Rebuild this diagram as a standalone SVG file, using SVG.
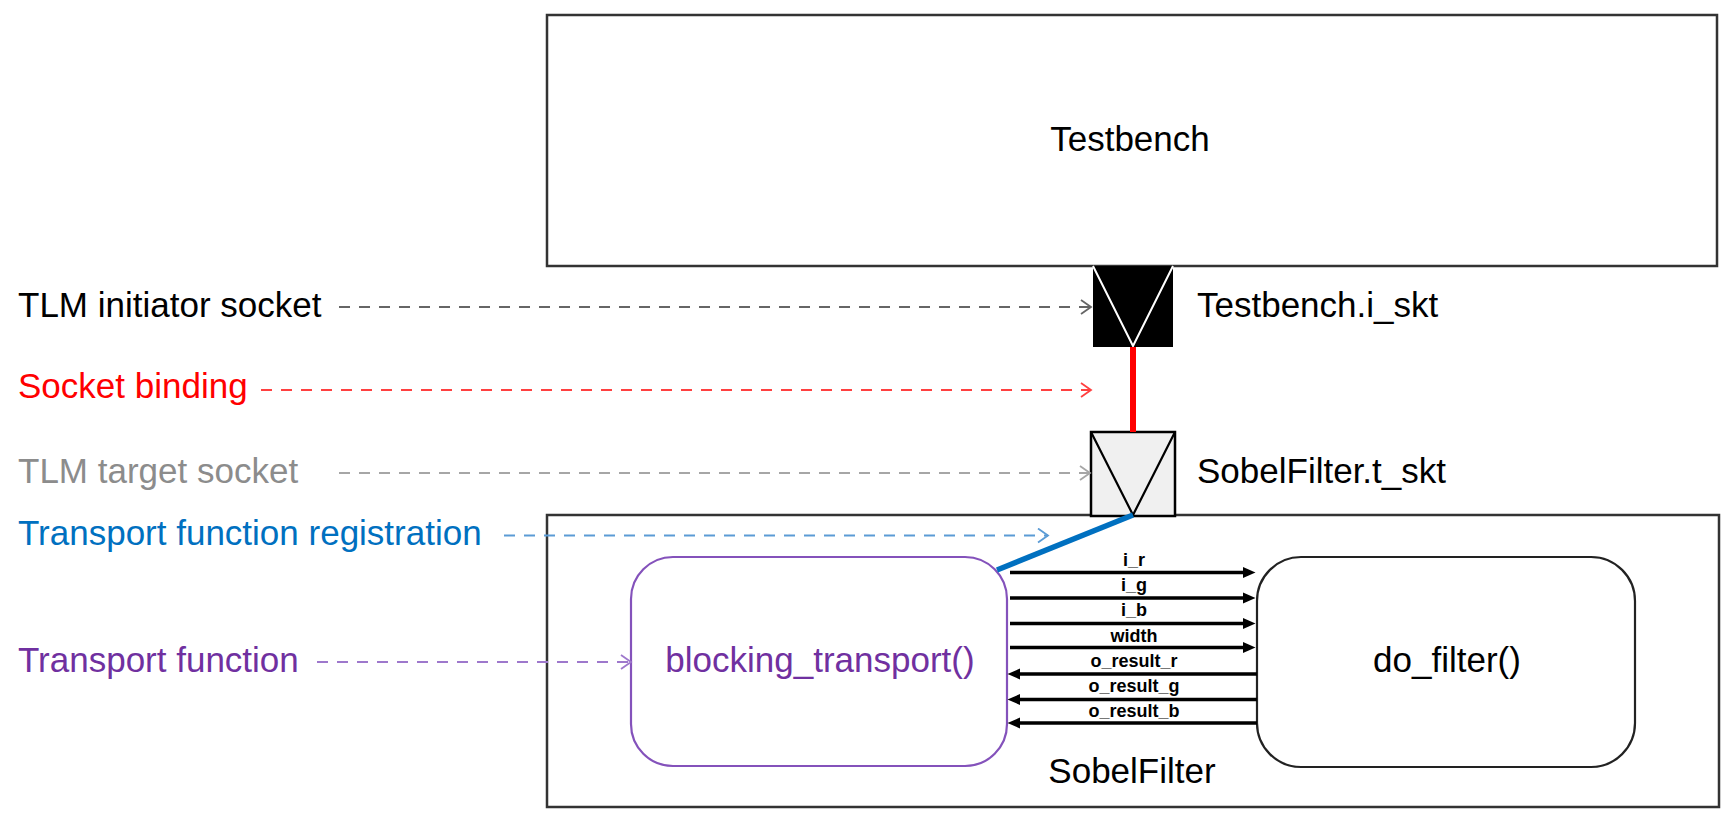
<svg xmlns="http://www.w3.org/2000/svg" width="1729" height="827" viewBox="0 0 1729 827">
<style>
text{font-family:"Liberation Sans",Arial,sans-serif;font-size:35px}
.box{fill:#fff;stroke:#333;stroke-width:2.5}
.sig{stroke:#000;stroke-width:3.3;fill:none}
.lbl{font-weight:bold;font-size:18px;text-anchor:middle;fill:#000}
.dash{fill:none;stroke-width:2;stroke-dasharray:11 9}
</style>
<defs>
<marker id="ah" markerUnits="userSpaceOnUse" markerWidth="14" markerHeight="12" refX="4" refY="6" orient="auto"><path d="M0,0.5 L12.5,6 L0,11.5 z" fill="#000"/></marker>
<marker id="cg" markerUnits="userSpaceOnUse" markerWidth="14" markerHeight="18" refX="11" refY="8" orient="auto"><path d="M1,1 L11,8 L1,15" fill="none" stroke="#666" stroke-width="1.8"/></marker>
<marker id="cr" markerUnits="userSpaceOnUse" markerWidth="14" markerHeight="18" refX="11" refY="8" orient="auto"><path d="M1,1 L11,8 L1,15" fill="none" stroke="#ff4040" stroke-width="1.8"/></marker>
<marker id="cl" markerUnits="userSpaceOnUse" markerWidth="14" markerHeight="18" refX="11" refY="8" orient="auto"><path d="M1,1 L11,8 L1,15" fill="none" stroke="#a6a6a6" stroke-width="1.8"/></marker>
<marker id="cb" markerUnits="userSpaceOnUse" markerWidth="14" markerHeight="18" refX="11" refY="8" orient="auto"><path d="M1,1 L11,8 L1,15" fill="none" stroke="#5b9bd5" stroke-width="1.8"/></marker>
<marker id="cp" markerUnits="userSpaceOnUse" markerWidth="14" markerHeight="18" refX="11" refY="8" orient="auto"><path d="M1,1 L11,8 L1,15" fill="none" stroke="#9e78cc" stroke-width="1.8"/></marker>
</defs>
<rect width="1729" height="827" fill="#fff"/>

<g id="testbench">
<rect class="box" x="547" y="15" width="1170" height="251"/>
<text x="1130" y="151" text-anchor="middle" fill="#000">Testbench</text>
</g>

<g id="sobelfilter">
<rect class="box" x="547" y="515" width="1172" height="292"/>
<text x="1132" y="783" text-anchor="middle" fill="#000">SobelFilter</text>
</g>

<g id="blocking_transport">
<rect x="631" y="557" width="376" height="209" rx="42" ry="42" fill="#fff" stroke="#8452bb" stroke-width="2.2"/>
<text x="820" y="672" text-anchor="middle" fill="#7030a0">blocking_transport()</text>
</g>

<g id="do_filter">
<rect x="1257" y="557" width="378" height="210" rx="44" ry="44" fill="#fff" stroke="#222" stroke-width="2.2"/>
<text x="1447" y="672" text-anchor="middle" fill="#000">do_filter()</text>
</g>

<g id="i_skt">
<rect x="1093" y="266" width="80" height="81" fill="#000"/>
<path d="M1093,266 L1133,346 L1173,266" fill="none" stroke="#fff" stroke-width="2"/>
<text x="1197" y="317" fill="#000">Testbench.i_skt</text>
</g>

<g id="t_skt">
<rect x="1091" y="432" width="84" height="84" fill="#f0f0f0" stroke="#000" stroke-width="2.5"/>
<path d="M1091,432 L1133,515 L1175,432" fill="none" stroke="#000" stroke-width="2.2"/>
<text x="1197" y="483" fill="#000">SobelFilter.t_skt</text>
</g>

<g id="legend-labels">
<text x="18" y="317" fill="#000">TLM initiator socket</text>
<text x="18" y="398" fill="#ff0000">Socket binding</text>
<text x="18" y="483" fill="#8c8c8c">TLM target socket</text>
<text x="18" y="545" fill="#0070c0">Transport function registration</text>
<text x="18" y="672" fill="#7030a0">Transport function</text>
</g>

<g id="connectors">
<line x1="1133" y1="347" x2="1133" y2="432" stroke="#ff0000" stroke-width="6"/>
<line x1="1133" y1="515" x2="997" y2="570" stroke="#0070c0" stroke-width="5.5"/>

<line class="dash" x1="339" y1="307" x2="1091" y2="307" stroke="#666" marker-end="url(#cg)"/>
<line class="dash" x1="261" y1="390" x2="1091" y2="390" stroke="#ff4040" marker-end="url(#cr)"/>
<line class="dash" x1="339" y1="473" x2="1090" y2="473" stroke="#a6a6a6" marker-end="url(#cl)"/>
<line class="dash" x1="504" y1="535.5" x2="1048" y2="535.5" stroke="#5b9bd5" marker-end="url(#cb)"/>
<line class="dash" x1="317" y1="662" x2="631" y2="662" stroke="#9e78cc" marker-end="url(#cp)"/>

<line class="sig" x1="1010" y1="572.5" x2="1247" y2="572.5" marker-end="url(#ah)"/>
<line class="sig" x1="1010" y1="598" x2="1247" y2="598" marker-end="url(#ah)"/>
<line class="sig" x1="1010" y1="623.5" x2="1247" y2="623.5" marker-end="url(#ah)"/>
<line class="sig" x1="1010" y1="647.5" x2="1247" y2="647.5" marker-end="url(#ah)"/>
<line class="sig" x1="1257" y1="674" x2="1016" y2="674" marker-end="url(#ah)"/>
<line class="sig" x1="1257" y1="699.5" x2="1016" y2="699.5" marker-end="url(#ah)"/>
<line class="sig" x1="1257" y1="723" x2="1016" y2="723" marker-end="url(#ah)"/>

<text class="lbl" x="1134" y="566">i_r</text>
<text class="lbl" x="1134" y="591">i_g</text>
<text class="lbl" x="1134" y="616">i_b</text>
<text class="lbl" x="1134" y="641.5">width</text>
<text class="lbl" x="1134" y="666.5">o_result_r</text>
<text class="lbl" x="1134" y="692">o_result_g</text>
<text class="lbl" x="1134" y="717">o_result_b</text>
</g>
</svg>
